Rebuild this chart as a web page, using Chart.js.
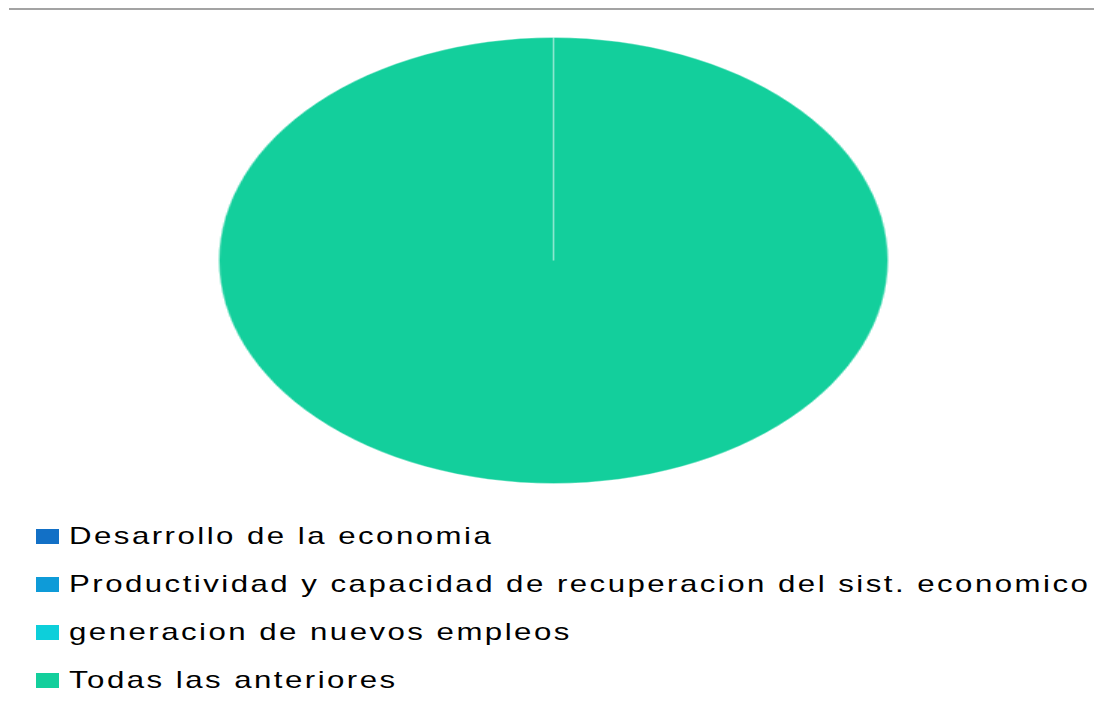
<!DOCTYPE html>
<html>
<head>
<meta charset="utf-8">
<script src="https://cdn.jsdelivr.net/npm/chart.js@4.4.0/dist/chart.umd.min.js"></script>
<style>
  html, body { margin: 0; padding: 0; background: #fff; }
  body { width: 1094px; height: 713px; position: relative; overflow: hidden; }
  .topline { position: absolute; top: 8px; left: 9px; right: 0; height: 0; border-top: 2px solid #a3a3a3; }
  /* pie is drawn round, then stretched sideways into an ellipse */
  .pieWrap { position: absolute; left: 330px; top: 37px; width: 447px; height: 447px;
             transform: scaleX(1.5); transform-origin: 223.5px 223.5px; }
  #legend { position: absolute; left: 36px; top: 512px; margin: 0; padding: 0; list-style: none;
            font-family: "Liberation Sans", Arial, sans-serif; font-size: 24px; letter-spacing: 1.9px; color: #000; }
  #legend li { height: 48px; display: flex; align-items: center; white-space: nowrap; }
  #legend .box { width: 23px; height: 15px; margin-right: 10px; flex: none; }
  #legend .txt { display: inline-block; transform: scaleX(1.3); transform-origin: 0 50%; }
</style>
</head>
<body>
<div class="topline"></div>
<div class="pieWrap"><canvas id="myPie"></canvas></div>
<ul id="legend"></ul>
<script>
// answers ---------------------------------------------
const opciones = [
  "Desarrollo de la economia",
  "Productividad y capacidad de recuperacion del sist. economico",
  "generacion de nuevos empleos",
  "Todas las anteriores",
];
const respuestas = [0, 0, 0, 100];
const colores = ["#1270c6", "#0e9bd8", "#0dcfda", "#13cf9c"];

// legend as html list, built from the chart itself
const htmlLegend = {
  id: "htmlLegend",
  afterUpdate(chart) {
    const ul = document.getElementById("legend");
    ul.innerHTML = "";
    const items = chart.options.plugins.legend.labels.generateLabels(chart);
    items.forEach((item) => {
      const li = document.createElement("li");
      const box = document.createElement("span");
      box.className = "box";
      box.style.background = item.fillStyle;
      const txt = document.createElement("span");
      txt.className = "txt";
      txt.textContent = item.text;
      li.appendChild(box);
      li.appendChild(txt);
      ul.appendChild(li);
    });
  },
};

const ctx = document.getElementById("myPie").getContext("2d");
const myPie = new Chart(ctx, {
  type: "pie",
  data: {
    labels: opciones,
    datasets: [
      {
        data: respuestas,
        backgroundColor: colores,
        borderColor: "rgba(255,255,255,0.3)",
        borderWidth: 1,
      },
    ],
  },
  options: {
    responsive: true,
    maintainAspectRatio: false,
    animation: false,
    layout: { padding: 0 },
    plugins: {
      legend: { display: false },
      tooltip: { enabled: false },
    },
  },
  plugins: [htmlLegend],
});
</script>
</body>
</html>
